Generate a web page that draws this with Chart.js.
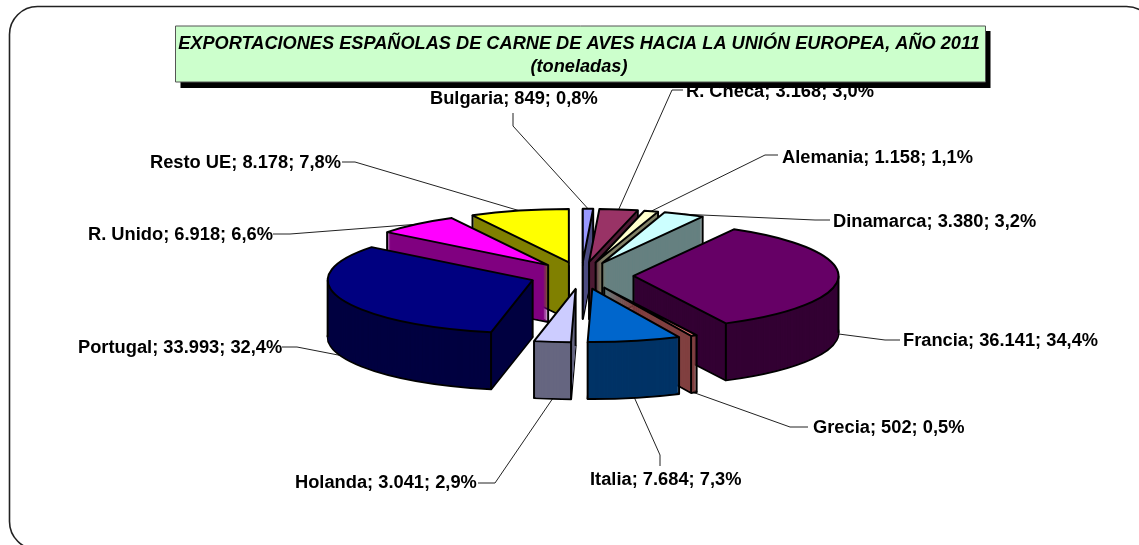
<!DOCTYPE html>
<html lang="es">
<head>
<meta charset="utf-8">
<style>html,body{margin:0;padding:0;background:#fff}canvas{display:block}</style>
<script src="https://cdn.jsdelivr.net/npm/chart.js@4/dist/chart.umd.min.js"></script>
</head>
<body>
<canvas id="c" width="1139" height="545"></canvas>
<script>
const categories = ['R. Checa','Alemania','Dinamarca','Francia','Grecia','Italia','Holanda','Portugal','R. Unido','Resto UE','Bulgaria'];
const values = [3168,1158,3380,36141,502,7684,3041,33993,6918,8178,849];
const valueTexts = ['3.168','1.158','3.380','36.141','502','7.684','3.041','33.993','6.918','8.178','849'];
const percentTexts = ['3,0%','1,1%','3,2%','34,4%','0,5%','7,3%','2,9%','32,4%','6,6%','7,8%','0,8%'];
const topColors = ['#993366','#FFFFCC','#CCFFFF','#660066','#FF8080','#0066CC','#CCCCFF','#000080','#FF00FF','#FFFF00','#9999FF'];
const wallColors = ['#4D1A33','#808066','#668080','#330033','#804040','#003366','#666680','#000040','#800080','#808000','#4D4D80'];
const titleLines = ['EXPORTACIONES ESPAÑOLAS DE CARNE DE AVES HACIA LA UNIÓN EUROPEA, AÑO 2011','(toneladas)'];

// Layout only: label text start [x, centre y], leader start and elbow
const labelLayout = [
  {x:686,y:92, a:[683,90],  b:[672,90]},
  {x:782,y:158,a:[778,155], b:[765,155]},
  {x:833,y:222,a:[830,220], b:[815,220]},
  {x:903,y:341,a:[900,340], b:[885,340]},
  {x:813,y:428,a:[808,427], b:[790,427]},
  {x:590,y:480,a:[660,466], b:[660,455]},
  {x:295,y:483,a:[478,483], b:[495,483]},
  {x:78, y:348,a:[282,347], b:[297,347]},
  {x:88, y:235,a:[273,234], b:[290,234]},
  {x:150,y:163,a:[342,162], b:[355,162]},
  {x:430,y:99, a:[513,113], b:[513,126]}
];
const SQUASH = 0.26, DEPTH = 57, EXPLODE = 52, RADIUS = 205, EDGE = 2, ROTATION = 2.9;
const LABEL_FONT = 'bold 18.3px "Liberation Sans", Arial, sans-serif';

function midOf(el){ return (el.startAngle + el.endAngle) / 2; }
function contains(el, ang){
  const T = Math.PI*2;
  let a = ang; while (a < el.startAngle) a += T;
  return a <= el.endAngle;
}
function project(el, r, ang, drop){
  const m = midOf(el);
  return [el.x + Math.cos(m)*EXPLODE + Math.cos(ang)*r,
          el.y + (Math.sin(m)*EXPLODE + Math.sin(ang)*r)*SQUASH + drop];
}
function applySliceTransform(ctx, el, drop){
  const m = midOf(el);
  ctx.translate(el.x, el.y + drop);
  ctx.scale(1, SQUASH);
  ctx.translate(-el.x, -el.y);
  ctx.translate(Math.cos(m)*EXPLODE, Math.sin(m)*EXPLODE);
}
function fillSlice(ctx, el, color, drop){
  const saved = el.options;
  el.options = Object.assign({}, saved, {backgroundColor:color, borderColor:color, borderWidth:0});
  ctx.save();
  applySliceTransform(ctx, el, drop);
  el.draw(ctx);
  ctx.restore();
  el.options = saved;
}
function strokeSlice(ctx, el, drop){
  ctx.save();
  applySliceTransform(ctx, el, drop);
  ctx.beginPath();
  ctx.moveTo(el.x, el.y);
  ctx.arc(el.x, el.y, el.outerRadius, el.startAngle, el.endAngle);
  ctx.closePath();
  ctx.restore();
  ctx.lineWidth = EDGE; ctx.strokeStyle = '#000'; ctx.lineJoin = 'round';
  ctx.stroke();
}
function vertical(ctx, p){
  ctx.beginPath(); ctx.moveTo(p[0], p[1]); ctx.lineTo(p[0], p[1] + DEPTH);
  ctx.lineWidth = EDGE; ctx.strokeStyle = '#000'; ctx.stroke();
}

const pie3d = {
  id:'pie3d',
  beforeDraw(chart){
    const ctx = chart.ctx;
    ctx.save();
    ctx.fillStyle = '#fff'; ctx.fillRect(0,0,chart.width,chart.height);
    ctx.beginPath();
    ctx.roundRect(9.5, 6.5, 1145, 543, 28);
    ctx.lineWidth = 1.6; ctx.strokeStyle = '#222'; ctx.stroke();
    ctx.restore();
  },
  beforeDatasetsDraw(chart){
    const ctx = chart.ctx, arcs = chart.getDatasetMeta(0).data;
    // leaders sit under the pie
    ctx.save();
    ctx.lineWidth = 1; ctx.strokeStyle = '#222';
    arcs.forEach((el,i)=>{
      const m = midOf(el), L = labelLayout[i];
      const end = project(el, el.outerRadius, m, Math.sin(m) > -0.2 ? DEPTH : 0);
      ctx.beginPath();
      ctx.moveTo(L.a[0], L.a[1]); ctx.lineTo(L.b[0], L.b[1]); ctx.lineTo(end[0], end[1]);
      ctx.stroke();
    });
    ctx.font = LABEL_FONT; ctx.fillStyle = '#000'; ctx.textBaseline = 'middle'; ctx.textAlign = 'left';
    arcs.forEach((el,i)=>{
      ctx.fillText(categories[i]+'; '+valueTexts[i]+'; '+percentTexts[i], labelLayout[i].x, labelLayout[i].y);
    });
    ctx.restore();

    const order = arcs.map((el,i)=>i).sort((a,b)=>Math.sin(midOf(arcs[a]))-Math.sin(midOf(arcs[b])));
    order.forEach(i=>{
      const el = arcs[i];
      for (let d = DEPTH; d > 0; d--) {
        fillSlice(ctx, el, wallColors[i], d);
        if (d === DEPTH) strokeSlice(ctx, el, d);
      }
      const s = el.startAngle, e = el.endAngle, R = el.outerRadius;
      const startFace = -Math.cos(s) > 0, endFace = Math.cos(e) > 0;
      if (startFace || endFace) vertical(ctx, project(el,0,0,0));
      if (startFace || Math.sin(s) > 0) vertical(ctx, project(el,R,s,0));
      if (endFace || Math.sin(e) > 0) vertical(ctx, project(el,R,e,0));
      [0, Math.PI].forEach(a=>{ if (contains(el,a)) vertical(ctx, project(el,R,a,0)); });
      fillSlice(ctx, el, topColors[i], 0);
      strokeSlice(ctx, el, 0);
    });
    return false;
  },
  afterDraw(chart){
    const ctx = chart.ctx;
    ctx.save();
    ctx.fillStyle = '#000'; ctx.fillRect(180.5, 31, 810, 57);
    ctx.fillStyle = '#CCFFCC'; ctx.fillRect(175.5, 26, 810, 56);
    ctx.lineWidth = 1; ctx.strokeStyle = '#555'; ctx.strokeRect(175.5, 26, 810, 56);
    ctx.font = 'italic bold 18.2px "Liberation Sans", Arial, sans-serif';
    ctx.fillStyle = '#000'; ctx.textAlign = 'center'; ctx.textBaseline = 'middle';
    ctx.fillText(titleLines[0], 579, 44);
    ctx.fillText(titleLines[1], 579, 67);
    ctx.restore();
  }
};

new Chart(document.getElementById('c'), {
  type:'pie',
  data:{labels:categories, datasets:[{data:values, backgroundColor:topColors, borderWidth:0}]},
  options:{
    responsive:false, animation:false, radius:RADIUS, rotation:ROTATION,
    layout:{padding:{left:24, top:6}},
    events:[],
    plugins:{legend:{display:false}, title:{display:false}, tooltip:{enabled:false}}
  },
  plugins:[pie3d]
});
</script>
</body>
</html>
